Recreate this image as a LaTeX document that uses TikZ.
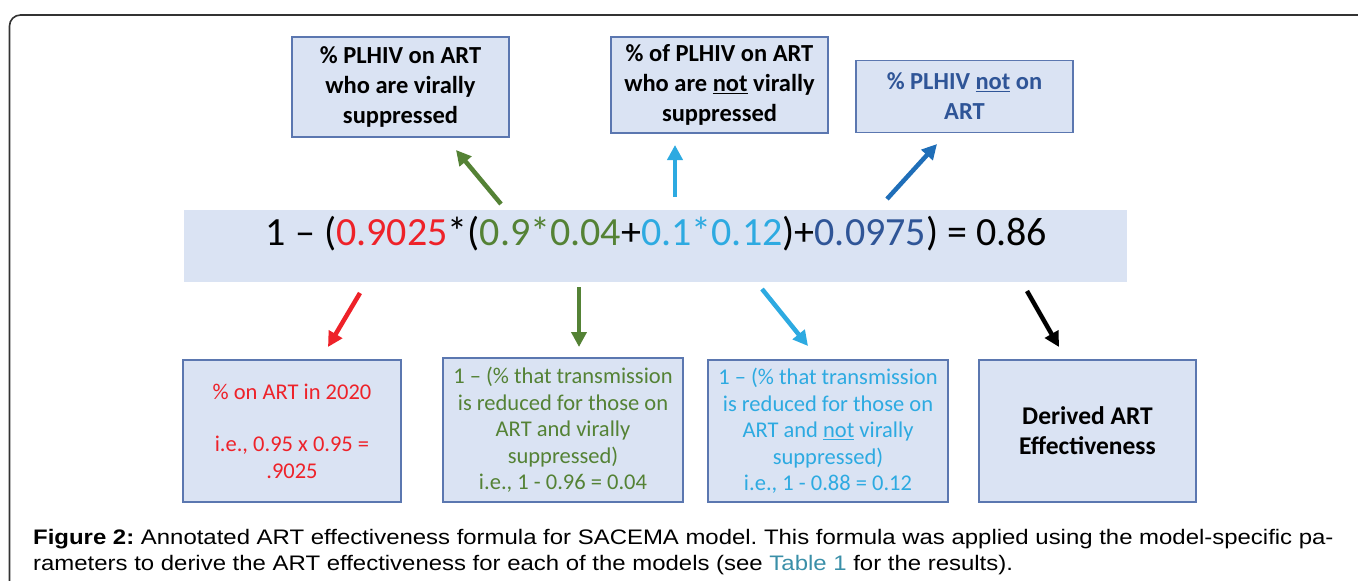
\documentclass[tikz,border=0pt]{standalone}
\usepackage{fontspec}
\setmainfont{Carlito}
\newfontfamily\capfont[FakeStretch=1.14]{Liberation Sans}
\usetikzlibrary{arrows.meta}
\frenchspacing
\definecolor{boxfill}{HTML}{DAE3F3}
\definecolor{boxline}{HTML}{5B77B0}
\definecolor{cred}{HTML}{EE2229}
\definecolor{cgreen}{HTML}{548235}
\definecolor{clblue}{HTML}{2DAAE1}
\definecolor{cdblue}{HTML}{2F5597}
\definecolor{carrow}{HTML}{1F6EB8}
\definecolor{clink}{HTML}{3A8FA8}
\definecolor{frame}{HTML}{333333}
\tikzset{
  infobox/.style={draw=boxline, fill=boxfill, line width=1.2pt, inner sep=0pt, align=center},
  topfont/.style={font=\fontsize{24.5}{30}\selectfont\bfseries},
  botfont/.style={font=\fontsize{22.5}{26.4}\selectfont},
  arr/.style={line width=4.5pt, -{Triangle[length=15pt,width=15pt]}},
}
\begin{document}
\begin{tikzpicture}[x=1pt,y=-1pt]
\useasboundingbox (0,0) rectangle (1358,581);
\begin{scope}
\clip (0,0) rectangle (1358,581);
\draw[frame, line width=1.6pt, rounded corners=11pt] (1380,15) -- (9.5,15) -- (9.5,600);
\end{scope}

% top boxes
\node[infobox, topfont, minimum width=217pt, minimum height=100pt] (t1) at (400.5,87)
  {\% PLHIV on ART\\who are virally\\suppressed};
\node[infobox, topfont, minimum width=217pt, minimum height=96pt] (t2) at (719.5,85)
  {\% of PLHIV on ART\\who are \underline{not} virally\\suppressed};
\node[infobox, topfont, text=cdblue, minimum width=217pt, minimum height=72pt] (t3) at (964.5,96.5)
  {\% PLHIV \underline{not} on\\ART};

% formula box
\node[fill=boxfill, minimum width=943pt, minimum height=72pt, inner sep=0pt] (fbox) at (655.5,246) {};
\node[font=\fontsize{40}{48}\selectfont, inner sep=0pt, anchor=base] (formula) at (656.5,245)
  {1 – (\textcolor{cred}{0.9025}*(\textcolor{cgreen}{0.9*0.04}+\textcolor{clblue}{0.1*0.12})+\textcolor{cdblue}{0.0975}) = 0.86};

% bottom boxes
\node[infobox, botfont, text=cred, minimum width=218pt, minimum height=142pt] (b1) at (292,431)
  {\% on ART in 2020\\[26.4pt]i.e., 0.95 x 0.95 =\\.9025};
\node[infobox, botfont, text=cgreen, minimum width=240pt, minimum height=144pt] (b2) at (563,430)
  {1 – (\% that transmission\\is reduced for those on\\ART and virally\\suppressed)\\i.e., 1 - 0.96 = 0.04};
\node[infobox, botfont, text=clblue, minimum width=240pt, minimum height=142pt] (b3) at (828,431)
  {1 – (\% that transmission\\is reduced for those on\\ART and \underline{not} virally\\suppressed)\\i.e., 1 - 0.88 = 0.12};
\node[infobox, font=\fontsize{25.5}{30}\selectfont\bfseries, minimum width=217pt, minimum height=142pt] (b4) at (1087.5,431)
  {Derived ART\\Effectiveness};

% arrow ends
\coordinate (u1s) at (501,204);  \coordinate (u1e) at (456,150);
\coordinate (u2s) at (675,197);  \coordinate (u2e) at (675,145);
\coordinate (u3s) at (887,199);  \coordinate (u3e) at (937,144);
\coordinate (d1s) at (360,293);  \coordinate (d1e) at (328,347);
\coordinate (d2s) at (579,287);  \coordinate (d2e) at (579,347);
\coordinate (d3s) at (762,289);  \coordinate (d3e) at (808,346);
\coordinate (d4s) at (1027,291); \coordinate (d4e) at (1059,347);

\draw[arr, cgreen] (u1s) -- (u1e);
\draw[arr, clblue] (u2s) -- (u2e);
\draw[arr, carrow] (u3s) -- (u3e);
\draw[arr, cred] (d1s) -- (d1e);
\draw[arr, cgreen] (d2s) -- (d2e);
\draw[arr, clblue] (d3s) -- (d3e);
\draw[arr, black] (d4s) -- (d4e);

% caption
\node[font=\capfont\fontsize{21}{27}\selectfont, anchor=base west, inner sep=0pt] (cap1) at (33,544)
  {\textbf{Figure 2:} Annotated ART effectiveness formula for SACEMA model. This formula was applied using the model-specific pa-};
\node[font=\capfont\fontsize{21}{27}\selectfont, anchor=base west, inner sep=0pt] (cap2) at (33,570)
  {rameters to derive the ART effectiveness for each of the models (see \textcolor{clink}{Table 1} for the results).};
\end{tikzpicture}
\end{document}
